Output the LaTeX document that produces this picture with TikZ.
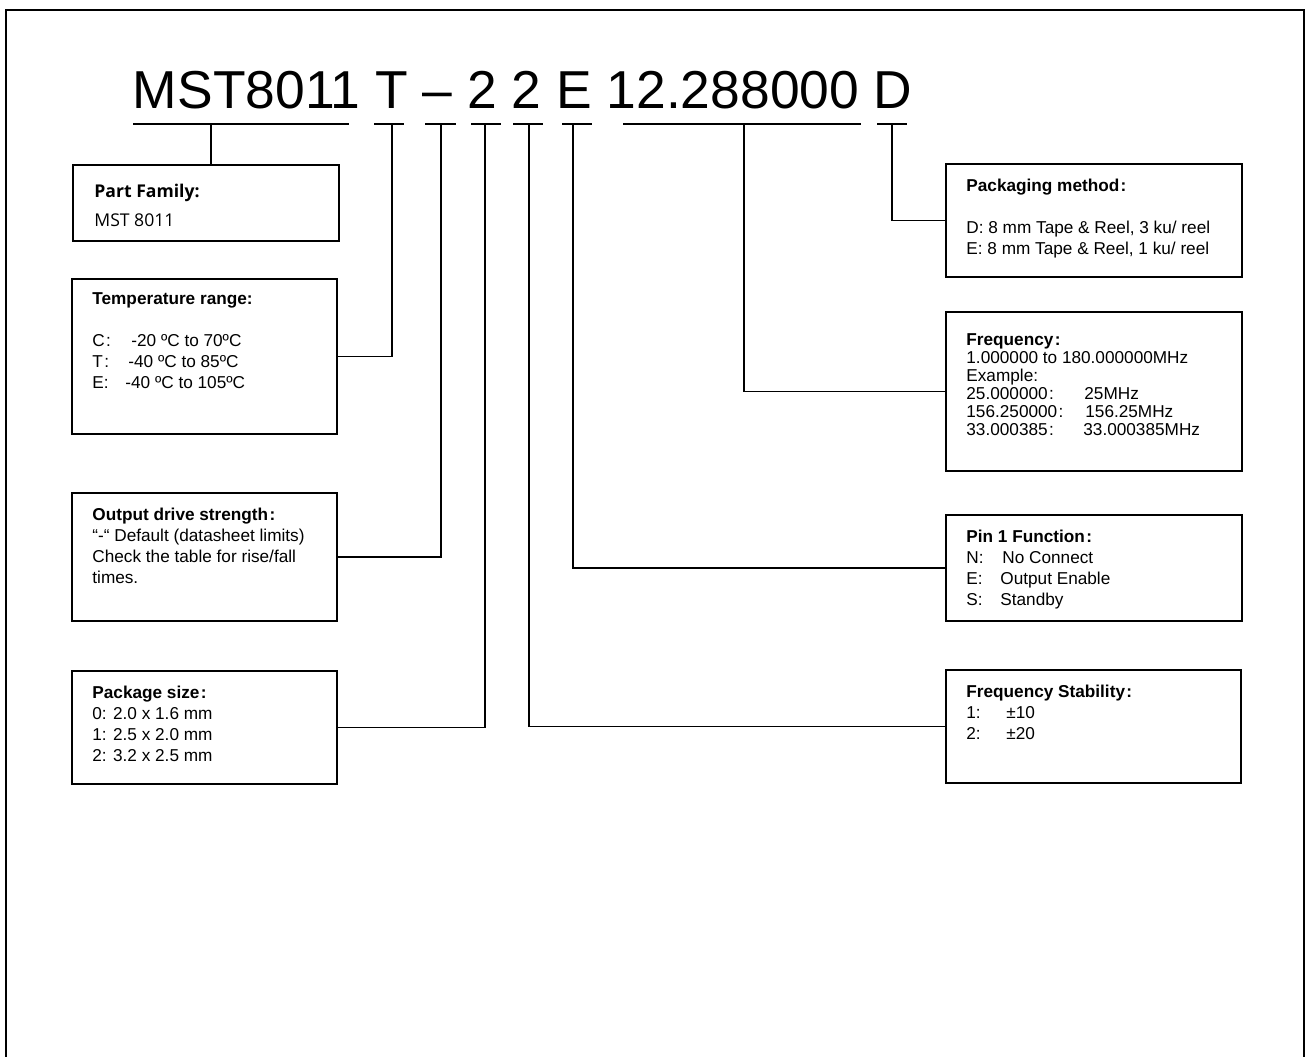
\documentclass[tikz,border=0pt]{standalone}
\usepackage{fontspec}
\setmainfont{Liberation Sans}
\newfontfamily\famfont{Open Sans}
\usepackage{tikz}
\usetikzlibrary{positioning, calc, fit}

% wide colon as used in the headings
\newcommand{\fcol}{\hspace{0.08em}:}

\begin{document}
\begin{tikzpicture}[x=0.5pt, y=-0.5pt,
    box/.style={rectangle, draw, line width=0.8pt, inner sep=0pt},
    txt/.style={anchor=north west, inner sep=0pt, align=left, font=\fontsize{8.6}{10.5}\selectfont},
    title/.style={anchor=base west, inner sep=0pt, font=\fontsize{26.7}{30}\selectfont},
    uline/.style={line width=0.8pt},
    link/.style={line width=0.8pt}
]
\useasboundingbox (0,0) rectangle (1306,1056);
\draw[line width=1.1pt] (6,1070) -- (6,10) -- (1304,10) -- (1304,1070);

\node[title] (code) at (132.5,108) {MST8011 T – 2 2 E 12.288000 D};

% underlines below each field of the code
\foreach \l/\r/\m/\n in {133/349/211/fam, 374/404/392/tmp, 425/456/441/drv, 471/501/485/pkg,
    513/543/529/stab, 562/592/573/pin, 623/861/744/freq, 877/907/892/pack}
  \draw[uline] (\l,124) -- (\r,124) (\m,124) coordinate (k\n);

% left column
\node[box, fit={(73,165) (339,241)}] (fam) {};
\node[box, fit={(72,279) (337,434)}] (tmp) {};
\node[box, fit={(72,493) (337,621)}] (drv) {};
\node[box, fit={(72,671) (337,784)}] (pkg) {};

% right column
\node[box, fit={(946,164) (1242,277)}] (pack) {};
\node[box, fit={(946,312) (1242,471)}] (freq) {};
\node[box, fit={(946,515) (1242,621)}] (pin) {};
\node[box, fit={(946,670) (1241,783)}] (stab) {};

\node[txt, font=\famfont\fontsize{8.8}{14.5}\selectfont] (famtxt) at (94,183.6)
  {\textbf{Part Family:}\\MST 8011};
\node[txt] (tmptxt) at (92,292.4)
  {\textbf{Temperature range:}\\[10.5pt]
   \makebox[19.5pt][l]{C\fcol}-20 ºC to 70ºC\\
   \makebox[18pt][l]{T\fcol}-40 ºC to 85ºC\\
   \makebox[16.5pt][l]{E:}-40 ºC to 105ºC};
\node[txt] (drvtxt) at (92,507.4)
  {\textbf{Output drive strength\fcol}\\
   “-“ Default (datasheet limits)\\
   Check the table for rise/fall\\
   times.};
\node[txt] (pkgtxt) at (92,685.4)
  {\textbf{Package size\fcol}\\
   0: 2.0 x 1.6 mm\\
   1: 2.5 x 2.0 mm\\
   2: 3.2 x 2.5 mm};

\node[txt] (packtxt) at (966,178.4)
  {\textbf{Packaging method\fcol}\\[10.5pt]
   D: 8 mm Tape \& Reel, 3 ku/ reel\\
   E: 8 mm Tape \& Reel, 1 ku/ reel};
\node[txt, font=\fontsize{8.6}{9}\selectfont] (freqtxt) at (966,333.4)
  {\textbf{Frequency\fcol}\\
   1.000000 to 180.000000MHz\\
   Example:\\
   \makebox[59pt][l]{25.000000\fcol}25MHz\\
   \makebox[59.5pt][l]{156.250000\fcol}156.25MHz\\
   \makebox[58.5pt][l]{33.000385\fcol}33.000385MHz};
\node[txt] (pintxt) at (966,529.4)
  {\textbf{Pin 1 Function\fcol}\\
   \makebox[18pt][l]{N:}No Connect\\
   \makebox[17pt][l]{E:}Output Enable\\
   \makebox[17pt][l]{S:}Standby};
\node[txt] (stabtxt) at (966,684.4)
  {\textbf{Frequency Stability\fcol}\\
   \makebox[20pt][l]{1:}±10\\
   \makebox[20pt][l]{2:}±20};

% connectors from the code to the boxes
\draw[link] (kfam) -- (kfam |- fam.north);
\draw[link] (ktmp) |- (tmp.east);
\draw[link] (kdrv) |- (drv.east);
\draw[link] (kpkg) |- (pkg.east);
\draw[link] (kstab) |- (stab.west);
\draw[link] (kpin) |- (pin.west);
\draw[link] (kfreq) |- (freq.west);
\draw[link] (kpack) |- (pack.west);

\end{tikzpicture}
\end{document}
